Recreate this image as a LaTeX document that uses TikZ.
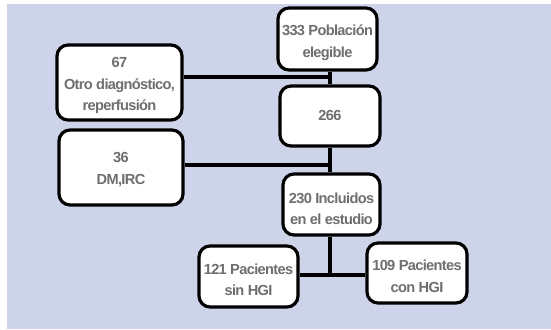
\documentclass[tikz,border=0pt]{standalone}
\usepackage{fontspec}
\newfontfamily\boxfont[LetterSpace=-4.5]{Liberation Sans Bold}
\definecolor{bgblue}{HTML}{CDD3E8}
\definecolor{txtgray}{HTML}{6E6E6E}
\begin{document}
\begin{tikzpicture}[x=1pt,y=-1pt,
  box/.style={draw=black, line width=3.2pt, fill=white, rounded corners=11pt, inner sep=0pt},
  lbl/.style={inner sep=0pt, align=center, text=txtgray,
    font=\boxfont\fontsize{14.6}{21.5}\selectfont},
  link/.style={line width=3.2pt}]
\useasboundingbox (0,0) rectangle (551,329);
\fill[bgblue] (7,4) rectangle (551,329);
\node[box, minimum width=99pt, minimum height=62pt] (A) at (327.5,39) {};
\node[box, minimum width=125pt, minimum height=75pt] (B) at (119.5,82.5) {};
\node[box, minimum width=100pt, minimum height=60pt] (C) at (330,116) {};
\node[box, minimum width=124pt, minimum height=75pt] (D) at (121,167.5) {};
\node[box, minimum width=97pt, minimum height=61pt] (E) at (331.5,204.5) {};
\node[box, minimum width=99pt, minimum height=61pt] (F) at (248.5,276.5) {};
\node[box, minimum width=100pt, minimum height=60pt] (G) at (417,273) {};
\node[lbl] (At) at ([yshift=-3.5pt]A.center) {333 Población\\elegible};
\node[lbl] (Bt) at ([yshift=-3pt]B.center) {67\\Otro diagnóstico,\\reperfusión};
\node[lbl] (Ct) at ([yshift=1pt]C.center) {266};
\node[lbl] (Dt) at ([yshift=-2pt]D.center) {36\\DM,IRC};
\node[lbl] (Et) at ([yshift=-4.5pt]E.center) {230 Incluidos\\en el estudio};
\node[lbl] (Ft) at ([yshift=-3.5pt]F.center) {121 Pacientes\\sin HGI};
\node[lbl] (Gt) at ([yshift=-3.2pt]G.center) {109 Pacientes\\con HGI};
\coordinate (j1) at (330,77);
\coordinate (j2) at (330,165);
\coordinate (j3) at (330,275);
\draw[link] (A.south -| C) -- (C.north);
\draw[link] (B.east |- j1) -- (j1);
\draw[link] (C.south) -- (E.north -| C);
\draw[link] (D.east |- j2) -- ([xshift=1.5pt]j2);
\draw[link] (E.south -| j3) -- (j3);
\draw[link] (F.east |- j3) -- (G.west |- j3);
\end{tikzpicture}
\end{document}
